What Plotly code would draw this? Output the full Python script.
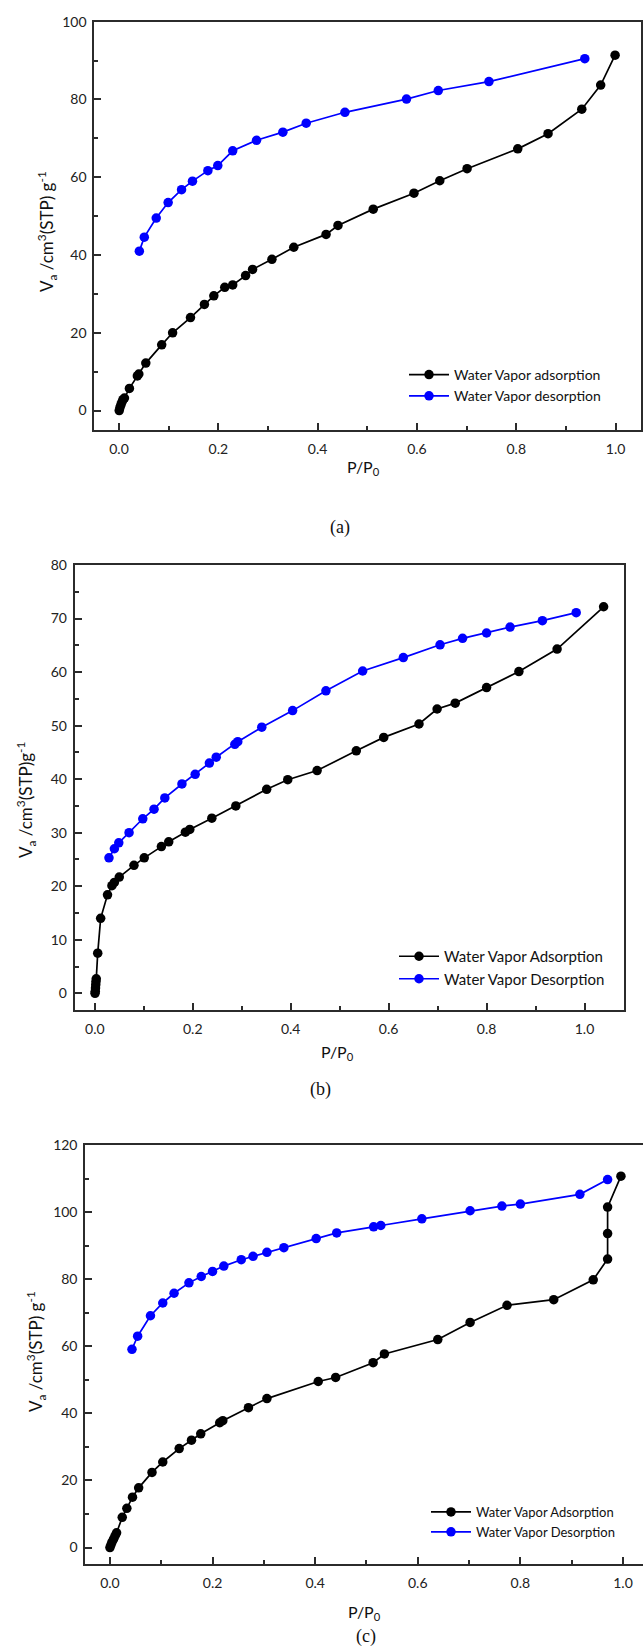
import plotly.graph_objects as go

# ---------------- Panel (a) ----------------
a_ads_x = [0.0005, 0.002, 0.004, 0.006, 0.008, 0.011, 0.021, 0.037, 0.040, 0.054, 0.086, 0.108,
           0.144, 0.172, 0.191, 0.213, 0.229, 0.255, 0.269, 0.308, 0.352, 0.417, 0.441, 0.512,
           0.594, 0.646, 0.701, 0.803, 0.864, 0.932, 0.970, 0.999]
a_ads_y = [0.0, 0.8, 1.5, 2.2, 2.8, 3.2, 5.7, 8.9, 9.4, 12.2, 16.9, 20.0,
           23.9, 27.3, 29.5, 31.7, 32.3, 34.7, 36.3, 38.9, 42.0, 45.3, 47.6, 51.8,
           55.9, 59.1, 62.2, 67.3, 71.2, 77.5, 83.7, 91.4]
a_des_x = [0.041, 0.051, 0.075, 0.099, 0.126, 0.148, 0.179, 0.199, 0.229, 0.277, 0.330, 0.377,
           0.455, 0.579, 0.643, 0.745, 0.938]
a_des_y = [41.0, 44.6, 49.5, 53.5, 56.8, 59.0, 61.7, 63.0, 66.8, 69.5, 71.6, 73.9,
           76.7, 80.1, 82.3, 84.6, 90.5]

# ---------------- Panel (b) ----------------
b_ads_x = [0.0005, 0.001, 0.0015, 0.002, 0.0025, 0.003, 0.006, 0.012, 0.026, 0.035, 0.040, 0.050,
           0.080, 0.101, 0.136, 0.151, 0.185, 0.194, 0.239, 0.288, 0.351, 0.394, 0.454, 0.534,
           0.590, 0.662, 0.699, 0.736, 0.800, 0.866, 0.944, 1.039]
b_ads_y = [0.0, 0.4, 1.0, 1.6, 2.2, 2.7, 7.5, 14.0, 18.4, 20.1, 20.7, 21.7,
           23.9, 25.3, 27.4, 28.3, 30.1, 30.6, 32.7, 35.0, 38.1, 39.9, 41.6, 45.3,
           47.8, 50.3, 53.1, 54.2, 57.1, 60.1, 64.3, 72.2]
b_des_x = [0.029, 0.040, 0.049, 0.070, 0.098, 0.121, 0.143, 0.178, 0.205, 0.234, 0.248, 0.286,
           0.292, 0.341, 0.404, 0.472, 0.547, 0.630, 0.705, 0.751, 0.800, 0.848, 0.914, 0.983]
b_des_y = [25.3, 27.0, 28.1, 30.0, 32.6, 34.4, 36.5, 39.1, 40.9, 43.0, 44.1, 46.5,
           47.0, 49.7, 52.8, 56.5, 60.2, 62.7, 65.1, 66.3, 67.3, 68.4, 69.6, 71.1]

# ---------------- Panel (c) ----------------
c_ads_x = [0.0, 0.002, 0.004, 0.007, 0.010, 0.013, 0.024, 0.033, 0.044, 0.056, 0.082, 0.103,
           0.135, 0.159, 0.177, 0.214, 0.220, 0.270, 0.306, 0.406, 0.440, 0.513, 0.535, 0.639,
           0.702, 0.774, 0.865, 0.942, 0.970, 0.970, 0.970, 0.996]
c_ads_y = [0.0, 0.8, 1.6, 2.5, 3.5, 4.4, 9.0, 11.7, 15.0, 17.8, 22.4, 25.5,
           29.5, 32.0, 33.9, 37.2, 37.8, 41.7, 44.4, 49.5, 50.7, 55.1, 57.7, 62.0,
           67.1, 72.2, 73.9, 79.8, 86.0, 93.6, 101.5, 110.7]
c_des_x = [0.043, 0.054, 0.079, 0.103, 0.125, 0.154, 0.178, 0.200, 0.222, 0.256, 0.279, 0.306,
           0.339, 0.402, 0.442, 0.514, 0.528, 0.608, 0.702, 0.764, 0.800, 0.916, 0.970]
c_des_y = [59.1, 63.0, 69.1, 72.9, 75.8, 78.9, 80.8, 82.3, 83.9, 85.8, 86.8, 88.0,
           89.4, 92.1, 93.8, 95.6, 96.0, 98.0, 100.4, 101.8, 102.4, 105.3, 109.7]

x_tick_vals = [0.0, 0.2, 0.4, 0.6, 0.8, 1.0]
x_tick_text = ["0.0", "0.2", "0.4", "0.6", "0.8", "1.0"]

W, H = 643, 1648
FONT = "Lato"
AX = "#2b2b2b"
BLACK = "#000000"
BLUE = "#0000ff"


def px_x(p):
    return p / W


def px_y(p):
    return 1 - p / H


fig = go.Figure()

panels = [
    dict(ax="", leg="legend", ads=(a_ads_x, a_ads_y), des=(a_des_x, a_des_y),
         names=("Water Vapor adsorption", "Water Vapor desorption")),
    dict(ax="2", leg="legend2", ads=(b_ads_x, b_ads_y), des=(b_des_x, b_des_y),
         names=("Water Vapor Adsorption", "Water Vapor Desorption")),
    dict(ax="3", leg="legend3", ads=(c_ads_x, c_ads_y), des=(c_des_x, c_des_y),
         names=("Water Vapor Adsorption", "Water Vapor Desorption")),
]

for p in panels:
    for (xs, ys), name, col in [(p["ads"], p["names"][0], BLACK), (p["des"], p["names"][1], BLUE)]:
        fig.add_trace(go.Scatter(
            x=xs, y=ys, mode="lines+markers", name=name,
            line=dict(color=col, width=1.7),
            marker=dict(color=col, size=9.5),
            xaxis="x" + p["ax"], yaxis="y" + p["ax"], legend=p["leg"],
        ))


def xax(domain, rng, anchor, mirror=True):
    return dict(domain=domain, range=rng, anchor=anchor, automargin=False,
                showline=True, linecolor=AX, linewidth=2, mirror=mirror,
                showgrid=False, zeroline=False,
                ticks="inside", ticklen=7, tickwidth=1.5, tickcolor=AX,
                tickvals=x_tick_vals, ticktext=x_tick_text,
                minor=dict(ticks="inside", ticklen=4, tickwidth=1.5, tickcolor=AX, dtick=0.1, tick0=0),
                tickfont=dict(family=FONT, size=14, color="#222"),
                ticklabelstandoff=5)


def yax(domain, rng, anchor, dtick, mdtick, mirror=True):
    return dict(domain=domain, range=rng, anchor=anchor, automargin=False,
                showline=True, linecolor=AX, linewidth=2, mirror=mirror,
                showgrid=False, zeroline=False,
                ticks="inside", ticklen=7, tickwidth=1.5, tickcolor=AX,
                tick0=0, dtick=dtick,
                minor=dict(ticks="inside", ticklen=4, tickwidth=1.5, tickcolor=AX, dtick=mdtick, tick0=0),
                tickfont=dict(family=FONT, size=14, color="#222"),
                ticklabelstandoff=3)


fig.update_layout(
    width=W, height=H, autosize=False,
    margin=dict(l=0, r=0, t=0, b=0, pad=0),
    paper_bgcolor="white", plot_bgcolor="white",
    showlegend=True,
    xaxis=xax([px_x(94.4), px_x(641.4)], [-0.0495, 1.052], "y"),
    yaxis=yax([px_y(430), px_y(21.7)], [-5, 100], "x", 20, 10),
    xaxis2=xax([px_x(74.7), px_x(623.7)], [-0.041, 1.08], "y2"),
    yaxis2=yax([px_y(1010), px_y(565)], [-3.12, 80], "x2", 10, 5),
    xaxis3=xax([px_x(85.3), 1.0], [-0.048, 1.039], "y3"),
    yaxis3=yax([px_y(1564.3), px_y(1145)], [-5, 120], "x3", 20, 10, mirror=False),
    legend=dict(x=px_x(404), y=px_y(359), xanchor="left", yanchor="top",
                bgcolor="rgba(0,0,0,0)", font=dict(family=FONT, size=14, color="#111"),
                itemwidth=40),
    legend2=dict(x=px_x(394), y=px_y(940), xanchor="left", yanchor="top",
                 bgcolor="rgba(0,0,0,0)", font=dict(family=FONT, size=15, color="#111"),
                 itemwidth=40),
    legend3=dict(x=px_x(426), y=px_y(1497), xanchor="left", yanchor="top",
                 bgcolor="rgba(0,0,0,0)", font=dict(family=FONT, size=13, color="#111"),
                 itemwidth=40),
)

ytitle_a = "V<sub>a</sub> /cm<sup>3</sup>(STP) g<sup>-1</sup>"
ytitle_b = "V<sub>a</sub> /cm<sup>3</sup>(STP)g<sup>-1</sup>"
xtitle = "P/P<sub>0</sub>"

annots = [
    (47, 232, ytitle_a, -90, FONT, 17),
    (363, 467, xtitle, 0, FONT, 16),
    (340, 527, "(a)", 0, "Liberation Serif", 18),
    (26, 800, ytitle_b, -90, FONT, 17),
    (337, 1052, xtitle, 0, FONT, 16),
    (320, 1089, "(b)", 0, "Liberation Serif", 18),
    (36, 1352, ytitle_a, -90, FONT, 17),
    (365, 1612, xtitle, 0, FONT, 16),
    (366, 1636, "(c)", 0, "Liberation Serif", 18),
]
for x, y, t, ang, fam, sz in annots:
    fig.add_annotation(x=px_x(x), y=px_y(y), xref="paper", yref="paper", text=t,
                       showarrow=False, textangle=ang, xanchor="center", yanchor="middle",
                       font=dict(family=fam, size=sz, color="#111"))

post = ("document.documentElement.style.margin='0';"
        "document.body.style.margin='0';document.body.style.padding='0';"
        "document.body.style.overflow='hidden';"
        "document.documentElement.style.overflow='hidden';")

fig.write_html("out.html", post_script=post,
               config={"responsive": False, "displayModeBar": False})
